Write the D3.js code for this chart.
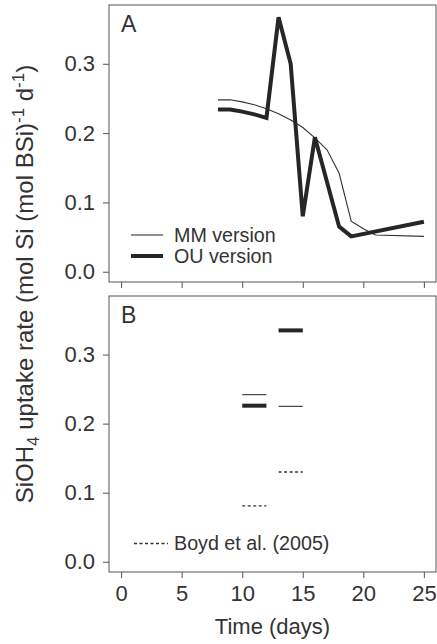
<!DOCTYPE html>
<html>
<head>
<meta charset="utf-8">
<script src="https://cdn.jsdelivr.net/npm/d3@7"></script>
<style>
  body { margin: 0; background: #fff; }
  svg { display: block; }
  text { font-family: "Liberation Sans", Arial, sans-serif; fill: #333; }
</style>
</head>
<body>
<svg id="chart" width="437" height="644"></svg>
<script>
// panel A: model runs
var ouDays = [8, 9, 10, 11, 12, 13, 14, 15, 16, 18, 19, 25];
var ouRate = [0.234, 0.234, 0.231, 0.227, 0.222, 0.367, 0.300, 0.080, 0.194, 0.065, 0.051, 0.072];
var mmDays = [8, 9, 10, 11, 12, 13, 14, 15, 16, 17, 18, 19, 20, 21, 25];
var mmRate = [0.248, 0.248, 0.245, 0.241, 0.235, 0.228, 0.219, 0.208, 0.193, 0.176, 0.142, 0.073, 0.062, 0.053, 0.051];

// panel B: mean rates over two periods
var periodStart = [10, 13];
var periodEnd = [12, 15];
var mmMean = [0.242, 0.225];
var ouMean = [0.226, 0.335];
var boydMean = [0.081, 0.130];

var xTicks = [0, 5, 10, 15, 20, 25];
var yTicks = [0.0, 0.1, 0.2, 0.3];

var svg = d3.select('#chart');
var left = 109, right = 436;

var x = d3.scaleLinear().domain([-1, 26]).range([left, right]);

var panels = [
  {name: 'A', top: 5, bottom: 282, labels: false},
  {name: 'B', top: 296, bottom: 572, labels: true}
];

panels.forEach(function(p) {
  p.y = d3.scaleLinear().domain([-0.0148, 0.3848]).range([p.bottom, p.top]);
  var g = svg.append('g');
  p.g = g;

  g.append('rect')
    .attr('x', left).attr('y', p.top)
    .attr('width', right - left).attr('height', p.bottom - p.top)
    .attr('fill', 'none').attr('stroke', '#555').attr('stroke-width', 1);

  var xa = g.append('g')
    .attr('transform', 'translate(0,' + p.bottom + ')')
    .call(d3.axisBottom(x).tickValues(xTicks).tickSize(6).tickPadding(7)
      .tickFormat(p.labels ? d3.format('d') : function() { return ''; }));
  xa.select('.domain').remove();
  xa.selectAll('line').attr('stroke', '#555');
  xa.selectAll('text').attr('font-size', '22px').attr('fill', '#333')
    .attr('font-family', '"Liberation Sans", Arial, sans-serif');

  var ya = g.append('g')
    .attr('transform', 'translate(' + left + ',0)')
    .call(d3.axisLeft(p.y).tickValues(yTicks).tickSize(6).tickPadding(8)
      .tickFormat(d3.format('.1f')));
  ya.select('.domain').remove();
  ya.selectAll('line').attr('stroke', '#555');
  ya.selectAll('text').attr('font-size', '22px').attr('fill', '#333')
    .attr('font-family', '"Liberation Sans", Arial, sans-serif')
    .attr('dy', '0.32em');

  g.append('text')
    .attr('x', 121).attr('y', p.top + 27)
    .attr('font-size', '23px')
    .text(p.name);
});

// panel A lines
var pA = panels[0];
var line = d3.line()
  .x(function(d) { return x(d[0]); })
  .y(function(d) { return pA.y(d[1]); });

pA.g.append('path')
  .datum(d3.zip(mmDays, mmRate))
  .attr('d', line)
  .attr('fill', 'none').attr('stroke', '#333').attr('stroke-width', 1.1);

pA.g.append('path')
  .datum(d3.zip(ouDays, ouRate))
  .attr('d', line)
  .attr('fill', 'none').attr('stroke', '#262626').attr('stroke-width', 4)
  .attr('stroke-linejoin', 'miter');

// panel A legend
var legA = pA.g.append('g');
legA.append('line').attr('x1', 131).attr('x2', 163).attr('y1', 235).attr('y2', 235)
  .attr('stroke', '#333').attr('stroke-width', 1.1);
legA.append('text').attr('x', 174).attr('y', 242).attr('font-size', '19.7px').text('MM version');
legA.append('line').attr('x1', 131).attr('x2', 163).attr('y1', 256).attr('y2', 256)
  .attr('stroke', '#262626').attr('stroke-width', 4);
legA.append('text').attr('x', 174).attr('y', 263).attr('font-size', '19.7px').text('OU version');

// panel B segments
var pB = panels[1];
function segs(vals, stroke, width, dash) {
  pB.g.append('g').selectAll('line')
    .data(vals)
    .enter().append('line')
      .attr('x1', function(d, i) { return x(periodStart[i]); })
      .attr('x2', function(d, i) { return x(periodEnd[i]); })
      .attr('y1', function(d) { return pB.y(d); })
      .attr('y2', function(d) { return pB.y(d); })
      .attr('stroke', stroke).attr('stroke-width', width)
      .attr('stroke-dasharray', dash);
}
segs(mmMean, '#444', 1.2, null);
segs(ouMean, '#262626', 4, null);
segs(boydMean, '#333', 1.3, '3,2.5');

var legB = pB.g.append('g');
legB.append('line').attr('x1', 134).attr('x2', 168).attr('y1', 543.5).attr('y2', 543.5)
  .attr('stroke', '#333').attr('stroke-width', 1.3).attr('stroke-dasharray', '3,2.5');
legB.append('text').attr('x', 174).attr('y', 550).attr('font-size', '19.7px').text('Boyd et al. (2005)');

// axis titles
svg.append('text')
  .attr('x', x(12.5)).attr('y', 634)
  .attr('text-anchor', 'middle').attr('font-size', '22px')
  .text('Time (days)');

var yl = svg.append('text')
  .attr('transform', 'translate(33,284) rotate(-90)')
  .attr('text-anchor', 'middle').attr('font-size', '24px');
yl.append('tspan').text('SiOH');
yl.append('tspan').attr('font-size', '17px').attr('dy', 6).text('4');
yl.append('tspan').attr('dy', -6).text(' uptake rate (mol Si (mol BSi)');
yl.append('tspan').attr('font-size', '17px').attr('dy', -9).text('-1');
yl.append('tspan').attr('dy', 9).text(' d');
yl.append('tspan').attr('font-size', '17px').attr('dy', -9).text('-1');
yl.append('tspan').attr('dy', 9).text(')');
</script>
</body>
</html>
